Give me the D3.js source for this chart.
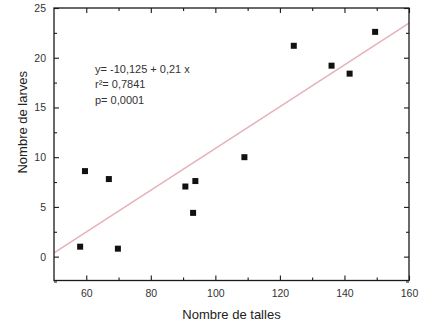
<!DOCTYPE html>
<html>
<head>
<meta charset="utf-8">
<script src="https://cdn.jsdelivr.net/npm/d3@7"></script>
<style>
  html, body { margin: 0; padding: 0; background: #fff; }
  svg { display: block; font-family: "Liberation Sans", Arial, sans-serif; }
</style>
</head>
<body>
<svg id="chart" width="421" height="328"></svg>
<script>
// Data
const tailles = [58.1, 59.6, 67.0, 69.8, 90.7, 93.8, 93.1, 109.0, 124.3, 136.0, 141.6, 149.5];
const larves  = [1.0, 8.6, 7.8, 0.8, 7.05, 7.6, 4.4, 10.0, 21.2, 19.2, 18.4, 22.6];
const intercept = -10.125;
const slope = 0.21;
const xTicks = [60, 80, 100, 120, 140, 160];
const xMinor = [70, 90, 110, 130, 150];
const yTicks = [0, 5, 10, 15, 20, 25];
const yMinor = [-2.5, 2.5, 7.5, 12.5, 17.5, 22.5];
const annotation = ["y= -10,125 + 0,21 x", "r\u00B2= 0,7841", "p= 0,0001"];
const xTitle = "Nombre de talles";
const yTitle = "Nombre de larves";

const svg = d3.select("#chart");
const L = 54, R = 409, T = 8, B = 280.5;
const x = d3.scaleLinear().domain([50, 160]).range([L, R]);
const y = d3.scaleLinear().domain([-2.4, 25]).range([B, T]);

const ink = "#1a1a1a";

// regression line
const lineData = x.domain().map(v => [v, intercept + slope * v]);
svg.append("path")
  .datum(lineData)
  .attr("d", d3.line().x(d => x(d[0])).y(d => y(d[1])))
  .attr("fill", "none")
  .attr("stroke", "#e6b3b8")
  .attr("stroke-width", 1.6);

// axes with inward ticks
function axisGroup(axis, transform) {
  const g = svg.append("g").attr("transform", transform).call(axis);
  g.selectAll("line").attr("stroke", ink).attr("stroke-width", 1.1);
  g.select(".domain").remove();
  return g;
}
// bottom
const gb = axisGroup(d3.axisBottom(x).tickValues(xTicks).tickSize(-5).tickPadding(9).tickFormat(d3.format("d")), `translate(0,${B})`);
gb.selectAll("text").attr("fill", "#333").attr("font-size", 10.5);
axisGroup(d3.axisBottom(x).tickValues(xMinor).tickSize(-3).tickFormat(""), `translate(0,${B})`);
// top
axisGroup(d3.axisTop(x).tickValues(xTicks).tickSize(-5).tickFormat(""), `translate(0,${T})`);
axisGroup(d3.axisTop(x).tickValues(xMinor).tickSize(-3).tickFormat(""), `translate(0,${T})`);
// left
const gl = axisGroup(d3.axisLeft(y).tickValues(yTicks).tickSize(-5).tickPadding(8).tickFormat(d3.format("d")), `translate(${L},0)`);
gl.selectAll("text").attr("fill", "#333").attr("font-size", 10.5);
axisGroup(d3.axisLeft(y).tickValues(yMinor).tickSize(-3).tickFormat(""), `translate(${L},0)`);
// right
axisGroup(d3.axisRight(y).tickValues(yTicks).tickSize(-5).tickFormat(""), `translate(${R},0)`);
axisGroup(d3.axisRight(y).tickValues(yMinor).tickSize(-3).tickFormat(""), `translate(${R},0)`);

// frame
svg.append("rect")
  .attr("x", L).attr("y", T)
  .attr("width", R - L).attr("height", B - T)
  .attr("fill", "none").attr("stroke", ink).attr("stroke-width", 1.3);

// points
const s = 6;
svg.append("g").selectAll("rect.pt")
  .data(tailles.map((t, i) => [t, larves[i]]))
  .join("rect")
  .attr("class", "pt")
  .attr("x", d => x(d[0]) - s / 2)
  .attr("y", d => y(d[1]) - s / 2)
  .attr("width", s).attr("height", s)
  .attr("fill", "#111");

// annotation
svg.append("g").selectAll("text")
  .data(annotation)
  .join("text")
  .attr("x", 95)
  .attr("y", (d, i) => 72.5 + i * 15.5)
  .attr("font-size", 11)
  .attr("fill", "#333")
  .text(d => d);

// axis titles
svg.append("text")
  .attr("x", (L + R) / 2).attr("y", 319)
  .attr("text-anchor", "middle")
  .attr("font-size", 13).attr("fill", "#222")
  .text(xTitle);
svg.append("text")
  .attr("transform", `translate(27,${(T + B) / 2 - 22}) rotate(-90)`)
  .attr("text-anchor", "middle")
  .attr("font-size", 13).attr("fill", "#222")
  .text(yTitle);
</script>
</body>
</html>
